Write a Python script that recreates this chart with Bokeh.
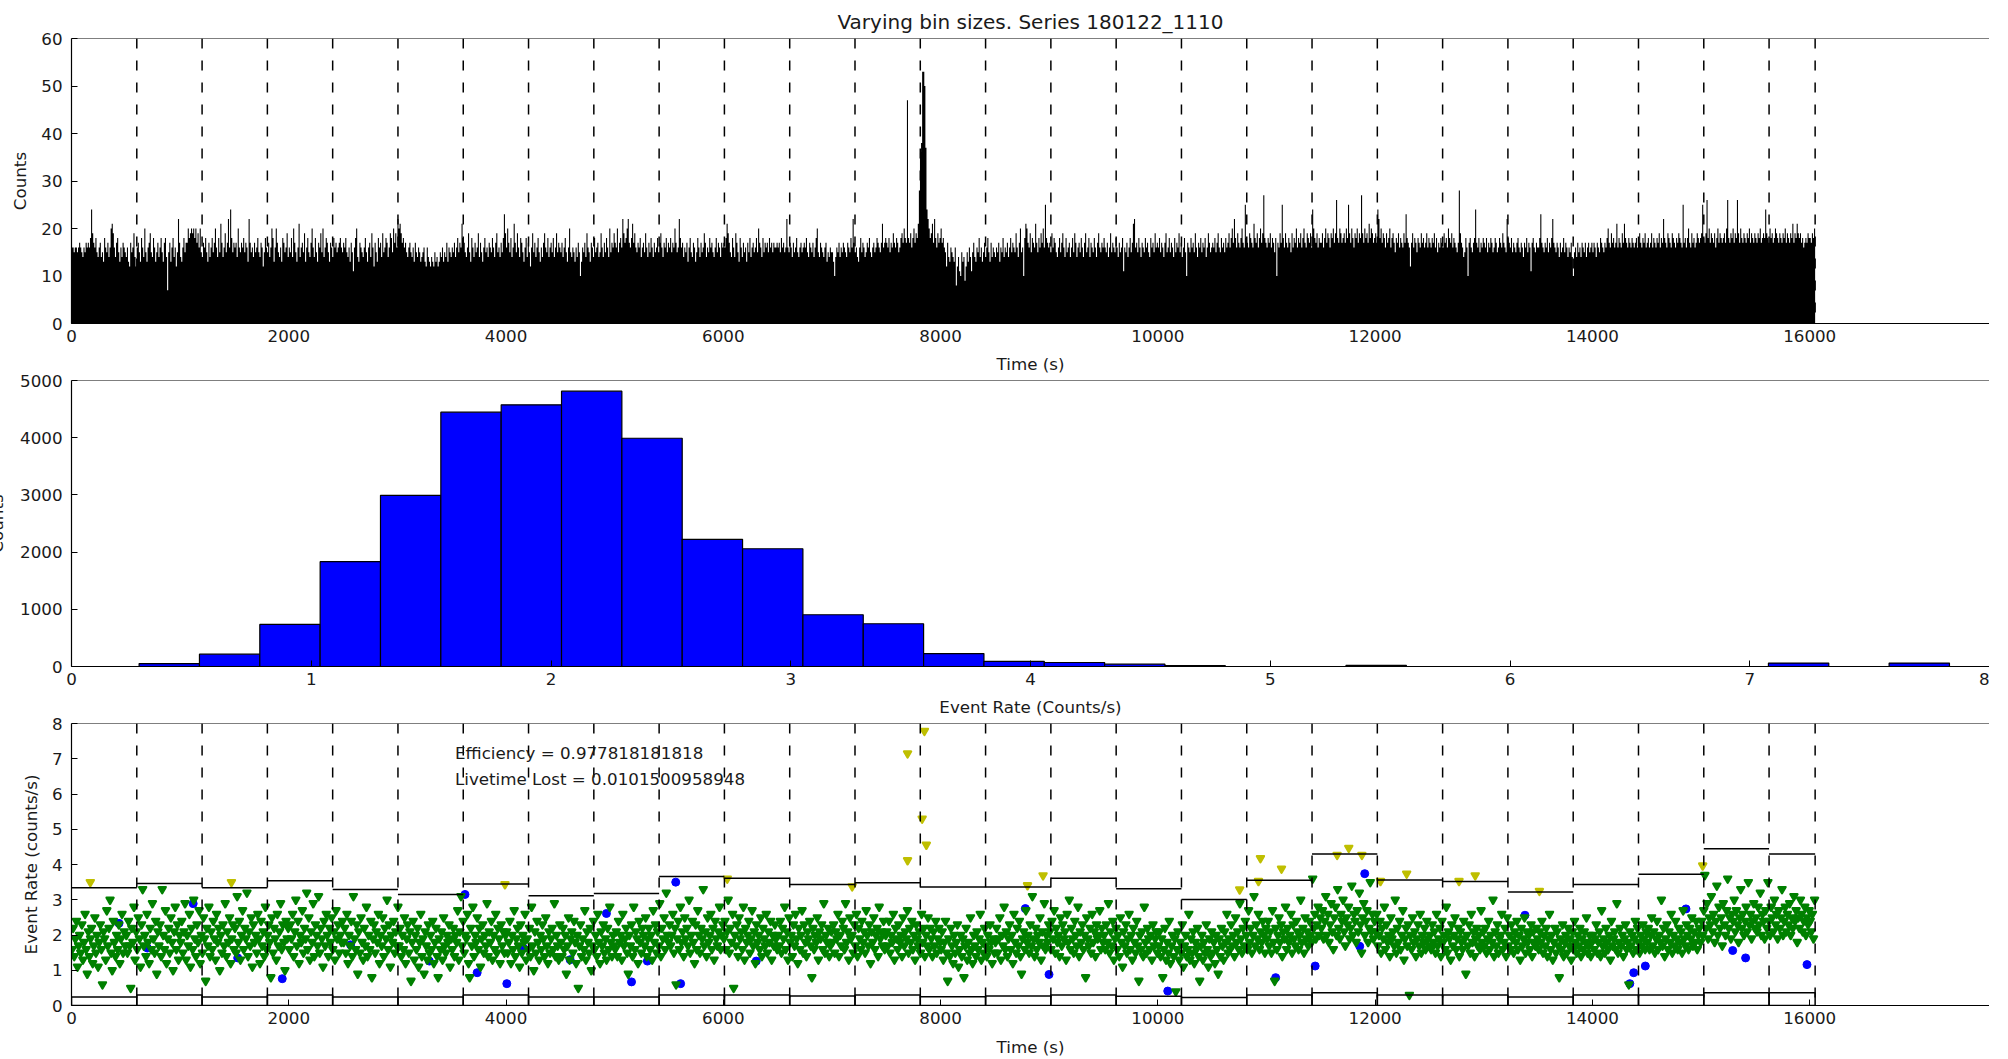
import numpy as np
from bokeh.plotting import figure
from bokeh.layouts import column
from bokeh.models import Range1d, FixedTicker, Span, Label, ColumnDataSource
from bokeh.embed import file_html
from bokeh.resources import INLINE

# ---------------- data ----------------
title_text = "Varying bin sizes. Series 180122_1110"
bin_width_s = 10

# counts per 10 s bin (top panel)
counts = [
 16,16,15,16,16,15,16,17,16,15, 14,16,15,17,16,17,16,18,24,19, 17,16,18,15,14,16,17,14,15,13, 18,16,15,17,14,16,20,21,19,16, 14,17,18,15,13,16,14,17,16,15,
 14,16,13,12,17,15,16,19,14,12, 16,17,15,13,18,16,14,20,15,13, 16,17,19,15,14,18,16,13,15,17, 14,16,18,15,13,17,18,14,7,15, 17,13,16,18,14,16,12,15,22,17,
 14,13,16,18,15,17,17,20,18,19, 20,19,20,18,20,17,19,16,20,15, 14,17,16,18,15,13,17,14,16,18, 15,17,20,16,14,18,15,21,17,14, 16,19,15,17,22,16,24,18,15,17,
 16,17,14,20,16,15,17,16,18,15, 17,16,13,22,17,15,16,14,17,15, 16,18,15,14,17,16,12,15,18,16, 15,17,14,16,20,18,13,16,20,17, 15,14,16,13,18,17,15,16,19,14,
 16,15,18,14,20,17,15,13,16,21, 14,16,17,15,19,13,16,18,15,14, 17,20,16,14,18,15,13,17,16,19, 15,20,14,16,18,17,15,13,17,16, 14,18,16,17,15,16,17,18,16,15,
 17,16,18,15,14,16,13,17,15,11, 16,18,20,14,13,17,16,15,14,16, 18,15,13,16,17,14,19,16,12,17, 15,13,18,16,17,14,19,15,16,18, 17,14,16,19,18,15,20,17,19,16,
 22,20,21,19,17,18,16,17,15,14, 16,17,15,14,16,13,17,15,14,16, 15,13,14,15,16,13,12,16,14,13, 12,14,13,12,15,13,14,12,13,15, 14,16,13,15,14,17,13,16,15,14,
 16,15,17,14,16,18,15,17,16,21, 18,17,15,14,16,19,15,13,18,16, 14,17,15,16,19,14,17,15,13,16, 18,15,16,14,17,16,15,18,16,14, 17,19,15,16,14,17,15,18,23,19,
 16,20,17,15,18,14,16,21,17,15, 19,16,14,18,17,15,13,16,18,14, 17,15,12,16,19,15,17,14,16,18, 15,13,16,14,17,19,16,15,18,14, 16,17,15,18,14,16,19,15,17,16,
 15,17,14,16,18,15,13,16,20,15, 14,16,15,13,16,14,17,15,10,13, 16,15,17,14,19,16,15,13,17,16, 14,18,15,16,17,14,15,19,16,14, 17,15,18,16,14,20,15,17,16,19,
 17,16,20,15,17,18,16,22,19,17, 18,20,22,17,16,18,21,17,19,16, 15,17,16,18,14,16,17,15,19,16, 14,17,15,18,16,14,17,15,16,18, 15,17,19,16,14,17,16,18,15,17,
 16,18,15,17,16,20,17,15,16,22, 18,16,17,14,16,15,17,13,16,18, 15,14,17,16,13,15,18,16,14,17, 15,16,19,17,14,16,15,18,16,17, 15,14,16,18,15,17,16,14,17,16,
 17,16,18,21,19,17,15,14,18,16, 14,19,17,15,13,18,16,14,17,15, 16,13,17,15,18,14,16,17,15,16, 18,15,20,17,16,14,18,15,17,16, 17,15,18,16,17,15,17,16,16,17,
 16,17,15,18,16,17,15,16,22,16, 15,17,16,14,17,15,16,18,15,14, 16,17,15,16,17,16,18,15,14,17, 16,15,17,14,16,18,20,15,14,17, 16,15,14,16,17,13,15,14,16,15,
 15,13,10,14,16,15,17,14,16,15, 17,16,15,14,17,16,15,18,16,22, 17,15,16,14,13,16,18,15,17,16, 14,15,17,16,18,15,14,16,17,15, 16,18,17,16,15,17,21,16,17,18,
 17,16,18,15,17,16,19,17,16,18, 17,15,16,18,19,17,20,18,17,47, 18,17,19,16,18,20,17,19,18,21, 28,36,38,53,53,50,37,24,22,20, 18,19,21,17,22,18,16,19,17,18,
 20,17,18,16,15,12,17,14,13,16, 15,14,13,16,8,12,14,11,10,15, 13,14,9,12,15,13,16,14,11,15, 17,14,13,16,15,18,14,16,13,15, 17,14,16,18,15,13,17,14,16,15,
 14,16,15,17,13,16,15,18,14,16, 15,17,14,16,18,15,17,16,15,19, 16,14,17,20,15,16,10,18,21,20, 17,16,19,15,18,17,16,21,17,15, 18,16,19,17,20,16,25,18,17,16,
 17,15,19,16,18,17,15,14,16,18, 15,17,19,16,14,18,15,16,17,14, 16,18,15,19,17,14,16,17,15,18, 16,14,17,19,15,16,18,14,17,16, 15,18,16,14,17,19,16,15,17,16,
 18,16,15,17,14,16,19,15,17,16, 15,18,16,14,17,15,16,18,11,16, 15,17,14,16,18,15,17,21,22,16, 17,15,18,16,14,17,16,15,18,16, 17,15,14,18,16,17,15,19,16,17,
 16,18,15,17,16,14,17,19,15,16, 18,15,17,16,14,18,15,17,16,19, 15,17,14,16,18,15,10,17,16,15, 18,16,17,15,19,16,14,17,16,18, 15,17,16,18,14,16,19,17,15,16,
 17,16,18,15,17,19,16,15,18,16, 17,15,18,16,17,19,16,18,20,17, 22,18,16,19,17,16,18,20,17,16, 25,18,17,16,19,18,17,16,21,18, 17,19,16,18,20,17,19,27,18,17,
 16,18,17,19,16,18,17,15,18,10, 17,16,19,17,25,18,16,19,17,16, 18,17,15,19,16,18,17,20,16,18, 17,19,16,18,20,17,16,19,18,17, 19,16,24,20,18,17,19,16,18,17,
 17,19,16,18,20,17,19,18,16,19, 18,20,17,19,26,18,17,20,19,17, 18,19,17,20,18,25,19,17,20,18, 16,19,18,20,17,19,18,27,19,17, 20,18,19,17,21,18,20,19,17,18,
 19,17,24,22,18,20,17,19,18,16, 19,17,18,20,16,18,19,17,15,18, 17,19,16,18,17,16,19,17,23,18, 17,16,12,17,19,16,18,17,15,18, 17,16,19,17,18,16,17,19,16,18,
 17,16,18,17,19,16,18,15,17,16, 18,17,16,19,17,18,16,20,18,17, 19,16,18,17,16,15,17,28,19,17, 16,14,15,18,16,10,17,18,16,15, 17,18,24,17,16,18,15,17,16,18,
 17,16,18,15,17,16,18,17,15,16, 18,17,15,16,18,17,16,19,17,16, 15,22,18,17,16,18,15,17,16,15, 17,18,16,15,17,16,14,17,16,18, 15,17,16,11,17,18,16,15,17,16,
 16,18,23,17,16,15,17,16,18,15, 17,16,18,22,17,16,15,17,16,14, 17,15,16,18,15,17,16,14,16,15, 17,14,10,15,16,14,17,15,16,14, 17,16,15,17,14,16,17,15,16,17,
 15,17,16,14,17,16,15,18,17,16, 15,17,16,18,20,17,16,19,17,18, 16,17,21,16,18,17,16,19,17,21, 18,17,16,18,17,16,18,17,16,17, 18,16,17,19,17,16,18,17,19,16,
 17,18,16,17,19,16,18,17,16,18, 17,19,16,18,17,22,18,17,16,19, 18,17,16,19,18,17,16,18,17,19, 18,17,16,25,17,18,16,18,20,17, 16,19,17,18,16,17,19,18,17,18,
 19,25,18,17,19,26,18,20,17,19, 18,17,19,16,18,20,17,19,18,17, 18,19,17,20,26,18,17,19,18,20, 17,19,18,26,19,17,20,18,17,19, 18,17,19,18,20,17,19,18,17,19,
 18,17,19,18,20,17,18,19,18,24, 19,18,17,20,18,19,17,18,20,19, 18,17,19,18,17,19,18,20,17,19, 18,17,19,18,21,17,19,18,21,19, 18,19,17,18,16,17,18,17,19,18,
 18,17,19,18,20,
]

# event rate per 10 s bin (bottom panel, green)
green_rate = [
 1.6,2.2,1.4,1.9,2.4,1.1,1.7,2.0,1.5,2.3, 1.3,1.8,2.6,1.6,0.9,2.1,1.4,1.9,2.2,1.2, 1.7,2.5,1.5,2.0,1.1,1.8,2.3,1.6,0.6,2.1, 1.9,1.3,2.7,1.7,2.2,3.0,1.5,1.0,2.4,1.8, 1.4,2.0,1.6,2.3,1.2,1.9,2.6,1.5,2.1,1.7,
 2.0,1.5,2.4,1.7,0.5,2.2,1.8,2.8,1.3,2.1, 1.6,2.5,1.9,1.1,2.3,3.3,1.7,2.0,1.4,2.6, 1.8,1.2,2.2,1.6,2.9,1.9,1.5,2.4,0.9,2.1, 1.7,2.3,1.4,3.3,2.0,1.6,2.7,1.2,1.9,2.2, 1.5,2.5,1.8,1.0,2.1,2.8,1.6,2.3,1.3,2.0,
 1.8,2.4,1.5,2.1,2.9,1.3,2.0,1.7,2.6,1.1, 2.2,1.6,3.0,1.9,1.4,2.3,1.8,2.7,1.2,2.0, 1.5,2.5,1.9,0.7,2.2,1.7,2.8,1.4,2.1,1.6, 2.4,1.9,1.3,2.6,1.8,2.2,1.0,2.0,1.5,2.3, 1.7,2.9,1.4,2.1,1.8,2.5,1.2,1.9,2.3,1.6,
 2.2,1.5,3.1,1.8,2.4,1.3,2.0,2.7,1.6,2.2, 1.9,3.2,1.4,2.1,1.7,2.5,1.1,2.3,1.8,2.0, 1.5,2.6,1.9,1.2,2.4,1.7,2.1,1.4,2.8,1.6, 2.0,2.3,1.8,0.8,2.5,1.5,2.2,1.9,1.3,2.6, 1.7,2.1,2.9,1.6,2.3,1.8,1.0,2.4,1.9,2.2,
 1.6,2.3,1.9,2.6,1.4,2.1,3.0,1.7,2.4,1.2, 2.0,1.8,2.7,1.5,2.2,1.9,3.2,1.6,2.5,1.3, 2.1,1.8,2.9,1.4,2.3,2.0,1.7,3.1,1.5,2.2, 1.9,1.1,2.4,1.7,2.6,2.0,1.4,2.2,1.8,2.5, 1.6,2.1,1.3,2.7,1.9,2.3,1.5,2.0,1.8,2.4,
 1.8,2.2,1.5,2.6,1.2,2.0,1.7,2.4,1.4,3.1, 1.9,1.6,2.3,0.9,2.1,1.5,2.5,1.8,1.3,2.2, 1.7,2.8,1.4,2.0,1.6,2.4,0.8,1.9,2.3,1.5, 2.1,1.8,2.6,1.2,2.0,1.7,2.5,1.4,2.2,1.9, 3.0,1.6,2.3,1.1,2.0,1.8,2.4,1.5,2.1,1.7,
 2.8,1.7,2.2,1.4,2.0,1.6,2.5,1.2,1.9,2.3, 1.5,2.1,0.7,1.8,2.4,1.3,2.0,1.6,2.2,1.1, 1.8,2.6,1.4,1.9,0.9,2.1,1.7,1.3,2.3,1.5, 2.0,1.6,2.4,1.2,1.8,2.2,1.4,0.8,1.9,1.6, 2.1,1.3,2.5,1.7,1.5,2.0,1.8,2.3,1.1,1.9,
 1.6,2.2,1.4,2.0,1.8,2.7,1.3,2.1,3.1,1.7, 2.4,1.5,2.0,1.9,2.6,1.2,0.8,2.2,1.7,2.8, 1.4,2.0,1.8,2.5,1.6,2.2,1.1,1.9,2.3,1.5, 2.0,1.7,2.9,1.4,2.1,1.8,2.4,1.3,2.0,1.6, 2.6,1.5,2.2,1.9,1.2,2.3,1.7,2.1,1.5,2.0,
 2.1,1.5,1.8,2.4,1.2,2.0,1.6,2.7,1.4,1.9, 2.2,1.7,1.1,2.3,1.5,2.0,1.8,2.6,1.3,1.9, 1.6,2.2,1.4,2.8,1.7,1.0,2.1,1.5,2.4,1.8, 1.3,2.0,1.6,2.3,1.9,1.4,2.5,1.7,1.2,2.1, 1.5,1.9,2.2,1.6,2.9,1.4,2.0,1.7,1.3,2.3,
 1.8,1.4,2.2,1.6,2.0,0.9,1.7,2.5,1.3,1.9, 2.1,1.5,2.4,1.8,1.2,2.0,0.5,1.7,2.3,1.4, 1.9,1.6,2.7,1.3,2.1,1.8,1.5,2.2,1.0,1.7, 2.4,1.6,2.0,1.4,2.6,1.8,1.2,2.1,1.7,2.3, 1.5,1.9,1.3,2.2,1.6,2.8,1.8,1.4,2.0,1.7,
 1.6,2.1,1.4,2.4,1.8,2.0,1.3,2.6,1.7,1.9, 2.2,1.5,0.9,2.0,1.7,2.3,1.4,2.8,1.6,2.1, 1.9,1.2,2.4,1.8,1.5,2.2,2.0,1.7,2.5,1.4, 1.9,2.2,1.6,2.0,1.3,2.7,1.8,2.3,1.5,2.1, 1.7,2.9,1.4,2.2,1.9,2.5,1.6,3.2,2.0,1.8,
 2.3,1.7,2.0,2.6,1.5,2.2,0.6,1.9,2.4,1.6, 2.8,1.8,2.1,1.4,2.5,1.9,2.2,1.7,3.0,1.5, 2.0,2.4,1.8,1.2,2.3,1.6,2.7,2.0,1.5,2.2, 1.9,3.3,1.7,2.1,1.4,2.5,1.8,2.0,2.6,1.6, 2.2,1.3,2.4,1.9,1.7,2.1,2.8,1.6,2.0,2.3,
 1.9,2.4,1.6,2.1,3.0,1.5,2.2,1.8,2.6,0.5, 2.0,1.7,2.3,1.4,2.5,1.9,2.1,1.6,2.8,1.3, 2.2,1.8,2.0,2.4,1.5,1.9,2.7,1.7,2.1,1.2, 2.3,1.8,2.0,1.6,2.5,1.4,2.2,1.9,1.7,2.6, 1.5,2.1,1.8,2.4,1.3,2.0,1.7,2.3,1.9,1.6,
 2.0,1.7,2.4,1.5,2.2,1.9,2.8,1.6,2.1,1.3, 2.5,1.8,2.0,1.4,2.3,1.7,2.6,1.9,1.2,2.2, 1.6,2.0,2.7,1.5,2.3,1.8,1.4,2.1,1.9,2.4, 1.7,0.8,2.2,1.6,2.0,1.8,2.5,1.3,2.1,1.9, 2.3,1.6,2.9,1.5,2.0,1.8,2.2,1.4,1.7,2.1,
 1.8,2.3,1.5,2.1,1.9,2.6,1.4,2.0,1.7,2.4, 2.2,1.6,2.9,1.8,2.1,1.3,2.5,1.9,2.0,1.5, 2.3,1.7,2.6,1.4,2.2,1.9,1.6,2.4,1.8,2.1, 1.5,2.7,2.0,1.7,2.3,1.2,2.1,1.8,2.5,1.6, 2.0,2.2,1.4,2.8,1.9,2.1,1.7,2.4,1.6,2.0,
 2.1,1.7,2.4,1.5,2.0,1.8,2.6,1.3,2.2,1.9, 1.6,2.3,1.8,2.0,1.4,2.5,1.7,2.1,1.9,2.7, 1.5,2.2,1.8,2.4,1.6,2.0,1.3,2.3,1.9,1.7, 2.1,1.5,2.6,1.8,2.2,1.4,2.0,1.7,2.5,1.6, 2.2,1.9,1.4,2.1,1.7,2.4,1.5,1.9,2.2,1.8,
 1.6,2.1,1.3,1.8,2.4,1.5,0.7,1.9,1.4,2.2, 1.7,1.2,2.0,1.5,1.8,2.3,1.1,1.6,2.0,1.4, 1.9,0.8,1.7,2.2,1.3,1.8,1.5,2.5,1.6,1.2, 2.0,1.7,1.4,2.1,1.6,1.9,2.6,1.3,1.8,1.5, 2.2,1.7,1.4,2.0,1.6,2.3,1.8,1.2,1.9,1.5,
 1.8,2.2,1.5,1.9,2.5,1.3,2.0,1.7,2.8,1.6, 2.1,1.4,1.9,2.3,1.6,2.0,1.2,2.6,1.8,1.5, 2.2,1.7,2.4,1.4,0.9,1.9,2.1,1.6,2.7,1.8, 2.0,1.5,2.3,1.7,3.1,1.9,1.4,2.2,1.6,2.0, 1.8,2.5,1.3,2.1,1.7,2.9,1.6,2.0,1.8,2.3,
 2.1,1.6,2.4,1.9,2.7,1.5,2.2,1.8,2.0,1.4, 2.5,1.7,2.3,1.9,2.1,1.3,2.6,1.8,3.0,1.6, 2.2,1.9,1.5,2.4,2.0,1.7,2.8,1.4,2.1,1.8, 2.3,1.6,2.0,0.8,2.5,1.9,1.7,2.2,1.5,2.6, 1.8,2.1,1.4,2.3,1.9,2.0,2.7,1.6,2.2,1.8,
 2.0,1.6,2.3,1.8,2.9,1.5,2.1,1.7,2.4,1.3, 1.9,2.2,1.6,2.0,1.4,2.5,1.8,1.1,2.1,1.7, 2.3,1.5,1.9,2.6,1.6,2.0,1.3,2.2,1.8,1.5, 2.4,1.7,0.7,2.0,1.6,2.1,1.4,2.8,1.8,1.5, 2.2,1.9,1.6,2.0,1.3,2.3,1.7,1.9,2.1,1.5,
 1.7,2.1,1.4,1.9,0.8,1.6,2.2,1.3,1.8,1.5, 2.4,1.2,1.7,2.0,1.4,1.9,0.4,1.6,2.1,1.3, 1.8,1.5,2.3,1.1,1.7,2.0,1.4,1.6,2.6,1.3, 1.9,1.5,2.1,1.2,1.8,1.6,2.2,1.4,0.7,1.7, 2.0,1.3,1.8,1.5,2.3,1.6,1.1,1.9,1.4,2.1,
 1.5,1.8,1.2,2.0,1.6,0.9,1.9,1.4,2.2,1.7, 1.3,2.1,1.8,2.6,1.5,1.9,1.6,2.3,1.7,2.0, 1.4,2.5,1.8,2.1,1.6,2.9,1.9,1.5,2.2,1.7, 2.4,2.0,1.6,2.7,1.8,2.2,1.5,2.0,3.1,1.7, 2.3,1.9,2.6,1.6,2.1,1.8,2.4,2.0,1.5,2.2,
 1.9,2.4,1.7,2.1,1.5,2.7,1.8,0.7,2.2,1.6, 2.0,2.5,1.8,2.3,1.4,2.1,1.9,2.8,1.6,2.2, 1.8,2.0,2.6,1.5,2.3,1.9,1.7,2.4,2.1,1.6, 2.0,3.0,1.8,2.2,1.5,2.5,1.9,2.1,1.7,2.4, 2.0,1.8,3.6,2.2,2.6,1.9,2.3,2.8,2.0,2.5,
 2.2,2.7,1.9,2.4,3.1,2.0,2.6,1.8,2.3,2.9, 2.1,1.6,2.5,2.8,2.0,3.3,2.2,1.9,2.6,2.4, 3.0,2.1,1.7,2.5,2.3,2.8,1.9,2.2,3.4,2.0, 2.6,2.4,1.8,2.7,2.1,3.2,2.3,1.5,2.5,2.9, 2.0,2.4,2.7,1.8,2.2,3.5,2.1,2.6,1.9,2.4,
 2.1,2.6,1.7,2.0,2.4,1.5,2.2,1.9,2.8,1.6, 2.3,1.8,2.0,1.4,2.5,1.9,2.1,1.7,3.0,1.5, 2.2,1.8,2.4,1.6,2.0,2.7,1.3,1.9,2.2,1.7, 2.3,0.3,2.0,1.6,2.5,1.8,2.1,1.4,1.9,2.3, 1.7,2.6,1.5,2.0,1.8,2.2,1.6,2.4,1.9,1.7,
 2.0,1.6,2.3,1.8,2.1,1.5,2.6,1.7,1.9,2.2, 1.4,2.4,1.8,2.0,1.6,2.8,1.5,2.1,1.9,1.3, 2.3,1.7,2.0,2.5,1.6,1.9,2.2,1.4,2.1,1.8, 1.6,2.4,1.9,0.9,2.0,1.7,2.3,1.5,2.6,1.8, 2.1,1.4,1.9,2.2,1.7,2.0,1.6,2.7,1.8,2.1,
 1.7,2.2,1.5,1.9,2.4,1.6,2.0,1.8,3.0,1.4, 2.1,1.7,2.3,1.5,1.9,2.0,2.6,1.6,1.8,2.2, 1.4,2.5,1.7,2.0,1.6,2.3,1.9,1.5,2.1,1.8, 2.4,1.6,2.0,1.3,2.2,1.7,1.9,2.5,1.5,2.1, 1.8,2.0,1.6,2.3,1.4,2.1,1.8,1.7,2.2,1.9,
 1.6,2.1,1.8,2.4,1.5,2.0,1.7,2.2,1.4,1.9, 2.6,1.6,2.0,1.3,1.8,2.2,1.5,2.1,1.7,0.8, 1.9,1.6,2.3,1.4,1.8,2.0,1.5,2.2,1.7,1.9, 1.3,2.1,1.6,2.4,1.8,1.5,2.0,1.7,2.2,1.4, 1.9,1.6,2.1,1.8,2.5,1.5,1.7,2.0,1.4,1.8,
 2.0,1.6,1.9,2.3,1.5,1.8,2.1,1.4,2.7,1.7, 1.9,1.5,2.2,1.8,1.6,2.0,1.3,2.4,1.7,1.9, 2.1,1.6,2.9,1.5,1.8,2.2,1.7,2.0,1.4,1.9, 2.3,1.6,1.8,0.6,2.1,1.7,2.0,1.5,1.9,2.4, 1.6,2.2,1.8,1.5,2.0,1.7,2.3,1.9,1.6,2.1,
 1.8,2.2,1.6,2.0,2.5,1.7,2.1,1.5,1.9,2.4, 1.6,2.0,1.8,3.0,1.7,2.2,1.4,1.9,2.3,1.6, 2.1,1.8,2.6,1.5,2.0,1.7,2.4,1.9,1.6,2.2, 1.8,2.1,1.5,2.7,1.9,1.7,2.3,2.0,1.6,2.2, 1.9,2.5,1.7,2.1,1.8,2.4,1.6,2.0,2.2,1.8,
 2.4,2.0,2.7,3.7,2.2,2.9,1.9,2.5,2.3,3.1, 2.1,2.6,1.8,2.4,3.4,2.0,2.8,2.2,2.5,1.7, 2.9,2.3,2.0,2.7,3.6,2.2,2.5,1.9,2.6,2.4, 3.0,2.1,2.7,2.3,1.8,2.5,3.3,2.2,2.6,2.0, 2.4,2.8,2.1,3.5,2.3,2.6,1.9,2.4,2.9,2.2,
 2.5,2.1,2.8,2.3,3.2,2.0,2.6,2.4,1.9,2.7, 2.2,3.5,2.4,2.0,2.8,2.5,2.1,3.0,2.3,2.6, 1.9,2.7,2.2,2.5,3.3,2.0,2.4,2.8,2.1,2.6, 2.3,2.9,2.0,2.5,2.2,3.1,2.4,2.7,1.8,2.5, 2.2,3.0,2.6,2.1,2.4,2.8,2.0,2.5,2.3,2.7,
 2.4,2.1,2.6,1.9,3.0,
]

blue_time = [437, 698, 1120, 1530, 1940, 2569, 3294, 3622, 3734, 4007, 4159, 4590, 4924, 5155, 5301,
             5562, 5607, 6303, 8780, 8998, 10091, 11084, 11448, 11858, 11904, 13379, 14344, 14380,
             14487, 14861, 15291, 15410, 15975]
blue_rate = [2.33, 1.63, 2.89, 1.35, 0.76, 1.72, 1.26, 3.15, 0.93, 0.62, 1.63, 1.30, 2.61, 0.67, 1.26,
             3.50, 0.62, 1.26, 2.75, 0.88, 0.41, 0.79, 1.12, 1.68, 3.74, 2.56, 0.62, 0.93,
             1.12, 2.74, 1.56, 1.35, 1.16]

yellow_time = [173, 1472, 3990, 6036, 7186, 7696, 7696, 7830, 7851, 7869, 8800, 8943, 10753, 10926,
               10944, 11138, 11650, 11757, 11878, 12049, 12290, 12772, 12921, 13512, 15015]
yellow_rate = [3.50, 3.50, 3.44, 3.60, 3.38, 7.15, 4.12, 5.30, 7.79, 4.56, 3.41, 3.69, 3.29, 3.53,
               4.18, 3.88, 4.27, 4.47, 4.27, 3.53, 3.74, 3.53, 3.69, 3.25, 3.97]

# analysis segments (s) and their rate limits
segment_edges = [0, 601, 1202, 1803, 2404, 3005, 3606, 4207, 4808, 5409, 6010, 6611, 7212, 7813,
                 8414, 9015, 9616, 10217, 10818, 11419, 12020, 12621, 13222, 13823, 14424, 15025,
                 15626, 16050]
upper_limit = [3.34, 3.46, 3.34, 3.54, 3.29, 3.15, 3.45, 3.11, 3.18, 3.66, 3.61, 3.43, 3.48, 3.36,
               3.36, 3.61, 3.31, 3.01, 3.55, 4.30, 3.56, 3.52, 3.22, 3.43, 3.72, 4.45, 4.30]
lower_limit = [0.24, 0.30, 0.24, 0.30, 0.24, 0.24, 0.30, 0.24, 0.24, 0.30, 0.30, 0.27, 0.30, 0.25,
               0.27, 0.30, 0.26, 0.23, 0.30, 0.36, 0.30, 0.30, 0.24, 0.30, 0.30, 0.36, 0.36]

# histogram of event rates
rate_hist_first_edge = 0.282
rate_hist_bin_width = 0.2517
rate_hist_counts = [52, 216, 735, 1832, 2993, 4446, 4574, 4813, 3990, 2223, 2059, 905, 747, 226, 90,
                    70, 40, 15, 0, 0, 20, 0, 0, 0, 0, 0, 0, 60, 0, 60]

efficiency_text = "Efficiency = 0.977818181818"
livetime_text = "Livetime Lost = 0.0101500958948"

time_ticks = [0, 2000, 4000, 6000, 8000, 10000, 12000, 14000, 16000]
count_ticks = [0, 10, 20, 30, 40, 50, 60]
hist_x_ticks = [0, 1, 2, 3, 4, 5, 6, 7, 8]
hist_y_ticks = [0, 1000, 2000, 3000, 4000, 5000]
rate_ticks = [0, 1, 2, 3, 4, 5, 6, 7, 8]

# ---------------- styling ----------------
FONT = "DejaVu Sans"
FS = "16.7px"
TXT = "#1a1a1a"
W = 2008
FRAME_LEFT = 71
SHIFT = 19          # figures are pulled left so that their frames start at x = 71
LIFT = 10           # lower figures are pulled up so their top tick labels are not clipped
TIME_END = 17655

def base_fig(height, top, bottom, xr, yr, lift=0):
    p = figure(width=W + SHIFT, height=height, x_range=xr, y_range=yr,
               output_backend="svg", toolbar_location=None,
               min_border_left=FRAME_LEFT + SHIFT, min_border_right=0,
               min_border_top=top, min_border_bottom=bottom,
               margin=(-lift, 0, 0, -SHIFT))
    p.outline_line_color = None
    p.xgrid.visible = False
    p.ygrid.visible = False
    p.background_fill_color = "white"
    p.border_fill_color = None if lift else "white"
    for ax in (p.xaxis[0], p.yaxis[0]):
        ax.axis_line_color = "black"
        ax.axis_line_width = 1.2
        ax.major_tick_in = 6
        ax.major_tick_out = 0
        ax.major_tick_line_color = "black"
        ax.minor_tick_line_color = None
        ax.major_label_text_font = FONT
        ax.major_label_text_font_size = FS
        ax.major_label_text_color = TXT
        ax.axis_label_text_font = FONT
        ax.axis_label_text_font_size = FS
        ax.axis_label_text_font_style = "normal"
        ax.axis_label_text_color = TXT
    p.xaxis.major_label_standoff = 6
    p.yaxis.major_label_standoff = 9
    p.xaxis.axis_label_standoff = 9
    p.add_layout(Span(location=yr.end, dimension="width", line_color="black", line_width=1.2))
    return p

def dashed_lines(p):
    for b in segment_edges[1:]:
        p.add_layout(Span(location=b, dimension="height", line_color="black",
                          line_width=1.5, line_dash="10 12"))

# ---- panel 1: counts vs time ----
edges = [i * bin_width_s for i in range(len(counts) + 1)]
p1 = base_fig(378, 38, 55, Range1d(0, TIME_END), Range1d(0, 60))
p1.title.text = title_text
p1.title.align = "center"
p1.title.text_font = FONT
p1.title.text_font_size = "20px"
p1.title.text_font_style = "normal"
p1.title.text_color = TXT
p1.title.standoff = 9
p1.varea_step(x=edges, y1=[0] * len(edges), y2=counts + [counts[-1]], step_mode="after",
              fill_color="black")
dashed_lines(p1)
p1.xaxis.ticker = FixedTicker(ticks=time_ticks)
p1.yaxis.ticker = FixedTicker(ticks=count_ticks)
p1.xaxis.axis_label = "Time (s)"
p1.yaxis.axis_label = "Counts"
p1.yaxis.axis_label_standoff = 8

# ---- panel 2: histogram of event rates ----
n_bins = len(rate_hist_counts)
h_left = [rate_hist_first_edge + i * rate_hist_bin_width for i in range(n_bins)]
h_right = [l + rate_hist_bin_width for l in h_left]
p2 = base_fig(343 + LIFT, 2 + LIFT, 55, Range1d(0, 8), Range1d(0, 5000), lift=LIFT)
p2.quad(left=h_left, right=h_right, bottom=[0] * n_bins, top=rate_hist_counts,
        fill_color="#0000ff", line_color="black", line_width=1.2)
p2.xaxis.ticker = FixedTicker(ticks=hist_x_ticks)
p2.yaxis.ticker = FixedTicker(ticks=hist_y_ticks)
p2.xaxis.axis_label = "Event Rate (Counts/s)"
p2.yaxis.axis_label = "Counts"
p2.yaxis.axis_label_standoff = 10

# ---- panel 3: event rate vs time ----
g_time = [i * bin_width_s + bin_width_s / 2 for i in range(len(green_rate))]
p3 = base_fig(338 + LIFT, 2 + LIFT, 51, Range1d(0, TIME_END), Range1d(0, 8), lift=LIFT)
p3.xaxis.axis_label_standoff = 10
p3.scatter(x=blue_time, y=blue_rate, marker="circle", size=8, fill_color="#0000ff",
           line_color="#0000ff")
p3.scatter(x=g_time, y=green_rate, marker="inverted_triangle", size=7, fill_color="#008000",
           line_color="#008000", line_width=2.4, line_join="round")
p3.scatter(x=yellow_time, y=yellow_rate, marker="inverted_triangle", size=7, fill_color="#bfbf00",
           line_color="#bfbf00", line_width=2.4, line_join="round")
seg = ColumnDataSource(dict(left=segment_edges[:-1], right=segment_edges[1:],
                            upper=upper_limit, lower=lower_limit,
                            zero=[0] * len(upper_limit)))
p3.segment(x0="left", x1="right", y0="upper", y1="upper", source=seg, line_color="black",
           line_width=1.5)
p3.quad(left="left", right="right", bottom="zero", top="lower", source=seg, fill_color=None,
        line_color="black", line_width=1.5)
dashed_lines(p3)
p3.xaxis.ticker = FixedTicker(ticks=time_ticks)
p3.yaxis.ticker = FixedTicker(ticks=rate_ticks)
p3.xaxis.axis_label = "Time (s)"
p3.yaxis.axis_label = "Event Rate (counts/s)"
p3.yaxis.axis_label_standoff = 8
for txt, yv in ((efficiency_text, 7.15), (livetime_text, 6.42)):
    p3.add_layout(Label(x=3530, y=yv, text=txt, text_align="left", text_baseline="alphabetic",
                        text_font=FONT, text_font_size=FS, text_color=TXT))

layout = column(p1, p2, p3, spacing=0)
open("out.html", "w").write(file_html(layout, INLINE))
